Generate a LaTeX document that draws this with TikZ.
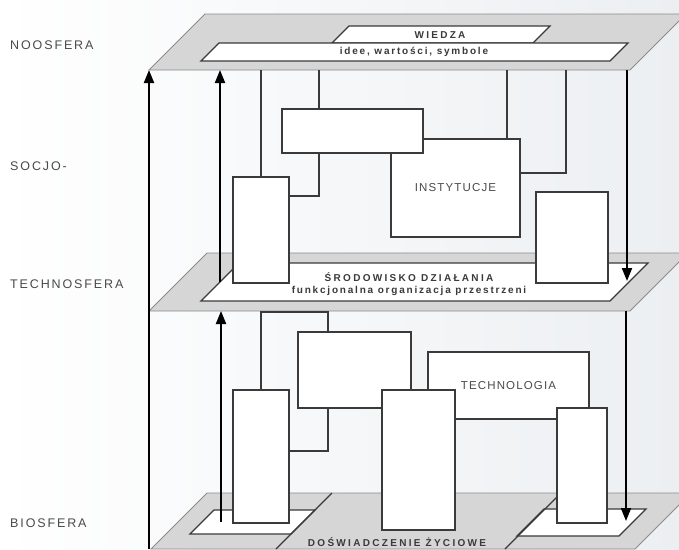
\documentclass[tikz,border=0pt]{standalone}
\usepackage{fontspec}
\setmainfont{Liberation Sans}
\newfontfamily\sferafont[LetterSpace=15]{Liberation Sans}
\newfontfamily\opisfont[LetterSpace=10]{Liberation Sans}
\newfontfamily\tytulfont[LetterSpace=23]{Liberation Sans}
\newfontfamily\podtytulfont[LetterSpace=18]{Liberation Sans}
\usetikzlibrary{arrows.meta}
\definecolor{tlo}{HTML}{ECEFF2}
\definecolor{plaszczyzna}{HTML}{D6D6D6}
\definecolor{krawedz}{HTML}{8C8C8C}
\definecolor{linia}{HTML}{3A3A3A}
\definecolor{tekst}{HTML}{4A4A4A}
\begin{document}
\begin{tikzpicture}[x=1pt,y=-1pt,
	plaszcz/.style={fill=plaszczyzna,draw=krawedz,line width=0.8pt},
	pole/.style={fill=white,draw=linia,line width=1.3pt},
	blok/.style={draw=linia,fill=white,line width=1.4pt,inner sep=0pt,text=tekst,font=\opisfont\fontsize{11.5}{13}\selectfont},
	laczenie/.style={draw=linia,line width=1.4pt},
	strzalka/.style={draw=black,line width=2pt,-{Triangle[length=13pt,width=10pt]}},
	sfera/.style={anchor=west,inner sep=0pt,text=tekst,font=\sferafont\fontsize{12.5}{14}\selectfont},
	napis/.style={inner sep=0pt,text=linia,font=\tytulfont\bfseries\fontsize{10}{12}\selectfont},
	podnapis/.style={inner sep=0pt,text=linia,font=\podtytulfont\bfseries\fontsize{10}{12}\selectfont}]
	\useasboundingbox (0,0) rectangle (679,549);
	\clip (0,0) rectangle (679,549);
	\shade[left color=white,right color=tlo] (0,0) rectangle (679,549);

	\node[sfera] (noosfera) at (10,45) {NOOSFERA};
	\node[sfera] (socjo) at (10,166) {SOCJO-};
	\node[sfera] (technosfera) at (10,284) {TECHNOSFERA};
	\node[sfera] (biosfera) at (10,523) {BIOSFERA};

	\coordinate (noo) at (149,70);
	\coordinate (tech) at (149,311);
	\draw[plaszcz] (noo) -- (630,70) -- (686,14) -- (205,14) -- cycle;
	\draw[pole] (332,43) -- (533,43) -- (550,26) -- (349,26) -- cycle;
	\draw[pole] (201,61) -- (610,61) -- (628,43) -- (219,43) -- cycle;
	\node[napis] (wiedza) at (440,35) {WIEDZA};
	\node[podnapis] (idee) at (414,52) {idee, wartości, symbole};

	\draw[plaszcz] (tech) -- (630,311) -- (688,253) -- (207,253) -- cycle;
	\draw[pole] (201,301) -- (610,301) -- (648,263) -- (239,263) -- cycle;
	\node[napis,align=center] (srodowisko) at (409,284) {ŚRODOWISKO DZIAŁANIA\\\podtytulfont funkcjonalna organizacja przestrzeni};

	\node[blok,minimum width=129pt,minimum height=98pt] (instytucje) at (455.5,188) {INSTYTUCJE};
	\node[blok,minimum width=141pt,minimum height=44pt] (gora) at (352.5,131) {};
	\node[blok,minimum width=56pt,minimum height=106pt] (lewyG) at (261,230) {};
	\node[blok,minimum width=72pt,minimum height=91pt] (prawyG) at (572,237.5) {};

	\coordinate (k1) at (319,70);
	\coordinate (k3) at (507,70);
	\coordinate (k4) at (566,70);
	\draw[laczenie] (lewyG.north |- noo) -- (lewyG.north);
	\draw[laczenie] (k1) -- (k1 |- gora.north);
	\draw[laczenie] (k1 |- gora.south) |- ([yshift=34pt]lewyG.east);
	\draw[laczenie] (k3) -- (k3 |- instytucje.north);
	\draw[laczenie] (k4) |- ([yshift=15pt]instytucje.east);

	\draw[plaszcz] (151,549) -- (635,549) -- (691,493) -- (207,493) -- cycle;
	\draw[pole] (190,534) -- (291,534) -- (315,510) -- (214,510) -- cycle;
	\draw[pole] (517,536) -- (619,536) -- (646,509) -- (544,509) -- cycle;
	\draw[linia,line width=1.3pt] (332,493) -- (276,549);
	\draw[linia,line width=1.3pt] (561,493) -- (505,549);
	\node[napis] (doswiadczenie) at (397,542) {DOŚWIADCZENIE ŻYCIOWE};

	\node[blok,minimum width=113pt,minimum height=76pt] (srodD) at (354.5,370) {};
	\node[blok,minimum width=161pt,minimum height=67pt] (technologia) at (508.5,385.5) {TECHNOLOGIA};
	\node[blok,minimum width=73pt,minimum height=140pt] (centrD) at (418.5,460) {};
	\node[blok,minimum width=50pt,minimum height=115pt] (prawyD) at (582,465.5) {};
	\node[blok,minimum width=56pt,minimum height=133pt] (lewyD) at (261,456.5) {};

	\coordinate (k5) at (328,312);
	\draw[laczenie] (lewyD.north) |- (k5) -- (k5 |- srodD.north);
	\draw[laczenie] (k5 |- srodD.south) |- ([yshift=5.5pt]lewyD.east);

	\coordinate (s0) at (149,549);
	\coordinate (w1) at (220,282);
	\coordinate (n1) at (627,70);
	\coordinate (n1k) at (627,281);
	\coordinate (w2) at (221,522);
	\coordinate (w2k) at (221,311);
	\coordinate (n2) at (626,311);
	\coordinate (n2k) at (626,521);
	\draw[strzalka] (s0) -- (noo);
	\draw[strzalka] (w1) -- (w1 |- noo);
	\draw[strzalka] (n1) -- (n1k);
	\draw[strzalka] (w2) -- (w2k);
	\draw[strzalka] (n2) -- (n2k);
\end{tikzpicture}
\end{document}
